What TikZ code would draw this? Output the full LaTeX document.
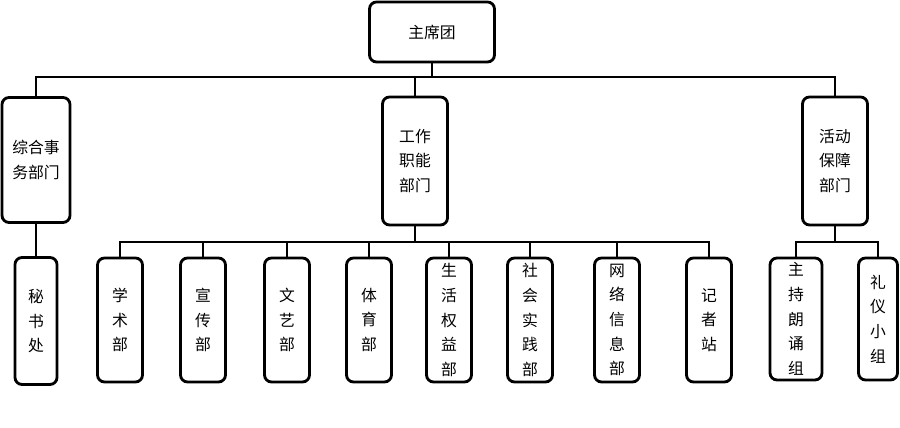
\documentclass[tikz,border=0pt]{standalone}
\usepackage{fontspec}
\setmainfont{Noto Sans CJK SC}
\usetikzlibrary{positioning}

\begin{document}
\begin{tikzpicture}[x=0.02cm,y=-0.02cm]
        \tikzstyle{onode} = [line width=1.6pt, draw=black, rectangle, rounded corners = 4pt, inner sep = 1pt, align=center, font=\fontsize{9pt}{14pt}\selectfont]
        \tikzstyle{link} = [line width=1.6pt]

        \useasboundingbox (0,0) rectangle (900,428);

        \node[onode, minimum width=2.5cm, minimum height=1.2cm, text width=2.2cm] (zxt) at (432,32) {主席团};

        \node[onode, minimum width=1.36cm, minimum height=2.5cm, text width=1.2cm] (zh) at (36,160) {综合事\\务部门};
        \node[onode, minimum width=1.3cm, minimum height=2.56cm, text width=1.0cm] (gz) at (415,161) {工作\\职能\\部门};
        \node[onode, minimum width=1.3cm, minimum height=2.56cm, text width=1.0cm] (hd) at (835,161) {活动\\保障\\部门};

        % top bus
        \coordinate (busT) at (432,77);
        \draw[link] (zxt.south) -- (busT);
        \draw[link] (zh.north) |- (busT) -| (hd.north);
        \draw[link] (gz.north) -- (gz.north |- busT);

        % children
        \node[onode, minimum width=0.84cm, minimum height=2.54cm] (msc) at (36,321) {秘\\书\\处};
        \draw[link] (zh.south) -- (msc.north);

        \foreach \name/\x/\txt in {xs/120/学\\术\\部, xc/203/宣\\传\\部, wy/287/文\\艺\\部, ty/369/体\\育\\部,
            sh/449/生\\活\\权\\益\\部, sj/530/社\\会\\实\\践\\部, wl/617/网\\络\\信\\息\\部, jz/709/记\\者\\站}
        {
          \node[onode, minimum width=0.9cm, minimum height=2.48cm] (\name) at (\x,320) {\txt};
        }
        \coordinate (busG) at (415,242);
        \draw[link] (gz.south) -- (busG);
        \draw[link] (xs.north) |- (busG) -| (jz.north);
        \foreach \name in {xc,wy,ty,sh,sj,wl}
          \draw[link] (\name.north) -- (\name.north |- busG);

        \node[onode, minimum width=1.04cm, minimum height=2.44cm] (zc) at (796,319) {主\\持\\朗\\诵\\组};
        \node[onode, minimum width=0.78cm, minimum height=2.44cm] (ly) at (878,319) {礼\\仪\\小\\组};
        \coordinate (busH) at (835,242);
        \draw[link] (hd.south) -- (busH);
        \draw[link] (zc.north) |- (busH) -| (ly.north);
\end{tikzpicture}
\end{document}
